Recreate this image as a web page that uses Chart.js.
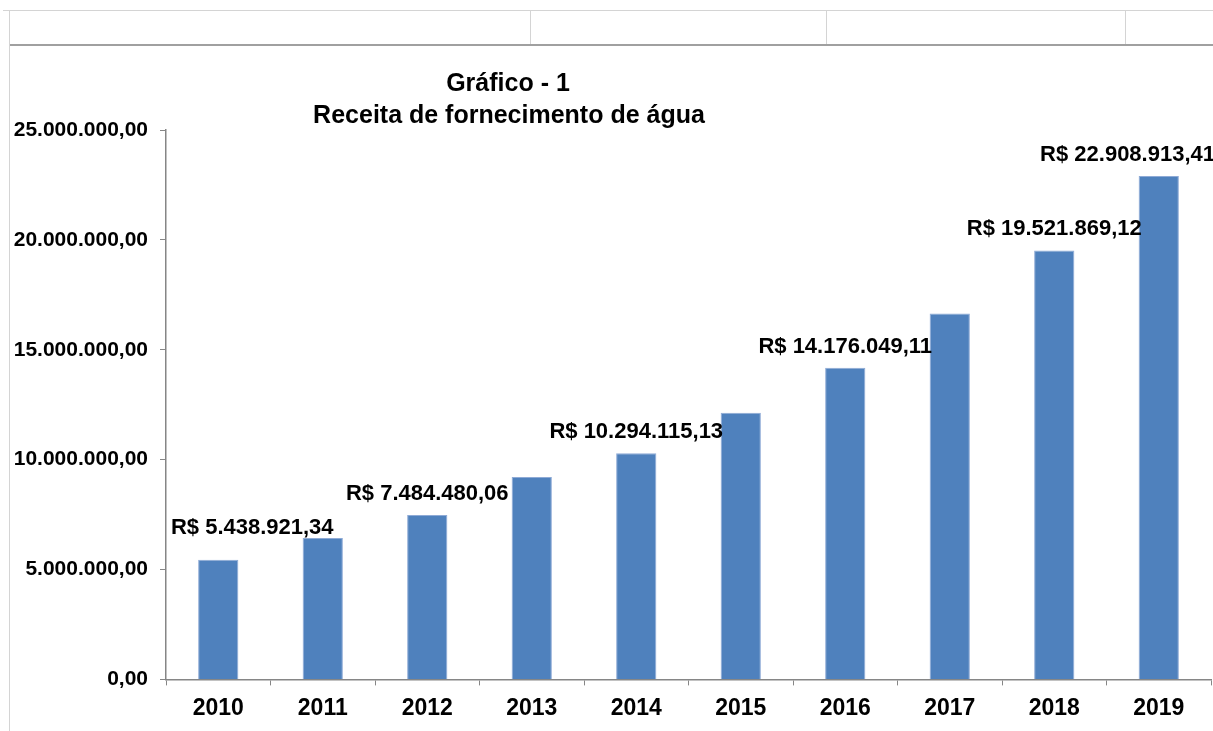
<!DOCTYPE html>
<html>
<head>
<meta charset="utf-8">
<script src="https://cdn.jsdelivr.net/npm/chart.js@4"></script>
<style>
  body { margin: 0; background: #fff; width: 1213px; height: 731px; overflow: hidden; position: relative; }
  .hline { position: absolute; left: 3px; right: 0; height: 1px; background: #d4d4d4; }
  .vline { position: absolute; width: 1px; background: #d4d4d4; }
  #box { position: absolute; left: 10px; top: 46px; width: 1203px; height: 685px; }
</style>
</head>
<body>
<div class="hline" style="top:10px"></div>
<div class="vline" style="left:9px;top:10px;bottom:0"></div>
<div class="vline" style="left:530px;top:10px;height:35px"></div>
<div class="vline" style="left:826px;top:10px;height:35px"></div>
<div class="vline" style="left:1125px;top:10px;height:35px"></div>
<div class="hline" style="top:44px;left:10px;background:#a0a0a0;height:2px"></div>
<div id="box"><canvas id="chart"></canvas></div>
<script>
const years = ["2010", "2011", "2012", "2013", "2014", "2015", "2016", "2017", "2018", "2019"];
const revenue = [5438921.34, 6430000, 7484480.06, 9210000, 10294115.13, 12130000, 14176049.11, 16650000, 19521869.12, 22908913.41];
const showLabel = [true, false, true, false, true, false, true, false, true, true];
const yTicks = [0, 5000000, 10000000, 15000000, 20000000, 25000000];

function brl(v) {
  return v.toLocaleString("pt-BR", { minimumFractionDigits: 2, maximumFractionDigits: 2 });
}

const FONT = "'Liberation Sans', Arial, sans-serif";

const titlePlugin = {
  id: "titleText",
  afterDraw(chart) {
    const ctx = chart.ctx;
    ctx.save();
    ctx.fillStyle = "#000";
    ctx.font = "bold 25px " + FONT;
    ctx.textAlign = "center";
    ctx.textBaseline = "middle";
    ctx.fillText("Gráfico - 1", 498, 38);
    ctx.fillText("Receita de fornecimento de água", 499, 70);
    ctx.restore();
  }
};

const valueLabels = {
  id: "valueLabels",
  afterDatasetsDraw(chart) {
    const ctx = chart.ctx;
    const meta = chart.getDatasetMeta(0);
    ctx.save();
    ctx.fillStyle = "#000";
    ctx.font = "bold 22px " + FONT;
    ctx.textAlign = "center";
    ctx.textBaseline = "middle";
    meta.data.forEach((bar, i) => {
      if (!showLabel[i]) return;
      const txt = "R$ " + brl(revenue[i]);
      const w = ctx.measureText(txt).width;
      let x = bar.x;
      let y = bar.y - 21;
      if (i === 0) { x += 34; y -= 11; }
      x = Math.min(x, chart.width - w / 2 + 2);
      ctx.fillText(txt, x, y);
    });
    ctx.restore();
  }
};

new Chart(document.getElementById("chart"), {
  type: "bar",
  data: {
    labels: years,
    datasets: [{
      data: revenue,
      backgroundColor: "#4F81BD",
      borderColor: "#8eaad6",
      borderWidth: 1,
      barPercentage: 0.385,
      categoryPercentage: 1
    }]
  },
  options: {
    responsive: true,
    maintainAspectRatio: false,
    animation: false,
    layout: { padding: { top: 84, right: 2, bottom: 0, left: 0 } },
    plugins: { legend: { display: false }, tooltip: { enabled: false } },
    scales: {
      x: {
        grid: { drawOnChartArea: false, drawTicks: true, tickLength: 6, color: "#868686" },
        border: { color: "#868686", width: 1.5 },
        ticks: { color: "#000", font: { family: FONT, size: 23, weight: "bold" }, padding: 9 }
      },
      y: {
        min: 0,
        max: 25000000,
        afterFit(scale) { scale.width = 156; },
        afterBuildTicks(scale) { scale.ticks = yTicks.map(v => ({ value: v })); },
        grid: { drawOnChartArea: false, drawTicks: true, tickLength: 6, color: "#868686" },
        border: { color: "#868686", width: 1.5 },
        ticks: {
          color: "#000",
          font: { family: FONT, size: 21, weight: "bold" },
          padding: 12,
          callback: v => brl(v)
        }
      }
    }
  },
  plugins: [titlePlugin, valueLabels]
});
</script>
</body>
</html>
